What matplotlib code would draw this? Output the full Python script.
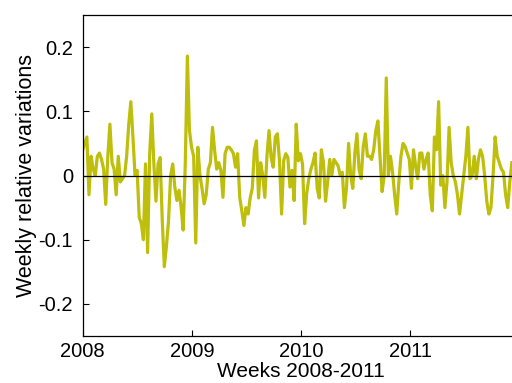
import numpy as np
import matplotlib
matplotlib.use("Agg")
import matplotlib.pyplot as plt

plt.rcParams['font.family'] = ['Liberation Sans', 'DejaVu Sans']

# Weekly relative variations, week 0 = first week of 2008
variations = [
    0.04, 0.05, 0.06, -0.03, 0.03, 0.01, 0.0, 0.03, 0.035, 0.025,
    0.01, -0.045, 0.03, 0.08, 0.02, 0.01, -0.03, 0.03, -0.01, -0.005,
    0.0, 0.03, 0.08, 0.115, 0.06, 0.0, 0.008, -0.065, -0.075, -0.1,
    0.018, -0.12, 0.034, 0.096, 0.018, -0.04, 0.018, 0.028, -0.07, -0.142,
    -0.11, -0.07, 0.0, 0.018, -0.018, -0.039, -0.023, -0.049, -0.085, 0.018,
    0.186, 0.07, 0.044, 0.03, -0.105, 0.044, 0.0, -0.02, -0.044, -0.03,
    0.01, 0.02, 0.075, 0.04, 0.01, 0.02, 0.008, -0.034, 0.034, 0.044,
    0.044, 0.04, 0.034, 0.013, 0.034, -0.034, -0.055, -0.078, -0.05, -0.06,
    -0.035, -0.02, 0.039, 0.054, -0.035, 0.02, 0.0, -0.034, 0.03, 0.07,
    0.028, 0.013, 0.06, 0.065, 0.023, -0.06, 0.023, 0.034, 0.028, -0.018,
    0.008, -0.039, 0.08, 0.023, 0.034, 0.018, -0.075, -0.028, -0.005, 0.01,
    0.02, 0.035, -0.02, -0.035, 0.04, 0.02, -0.04, -0.01, 0.025, 0.0,
    0.025, 0.02, 0.015, 0.0, 0.005, -0.05, -0.02, 0.05, 0.0, -0.02,
    0.035, 0.065, 0.01, -0.005, 0.045, 0.065, 0.03, 0.03, 0.025, 0.04,
    0.07, 0.085, 0.03, -0.025, 0.0, 0.152, 0.0, 0.03, 0.005, -0.03,
    -0.06, -0.01, 0.03, 0.05, 0.045, 0.035, 0.025, -0.02, 0.04, 0.015,
    -0.005, 0.035, 0.035, 0.01, 0.025, 0.035, -0.03, -0.055, 0.06, 0.04,
    0.115, -0.015, 0.0, -0.05, -0.01, 0.075, 0.02, 0.0, -0.01, -0.03,
    -0.06, -0.03, 0.0, 0.03, 0.075, -0.005, 0.0, 0.03, -0.005, 0.025,
    0.04, 0.03, 0.0, -0.04, -0.06, -0.05, 0.0, 0.06, 0.03, 0.02,
    0.01, 0.005, -0.03, -0.05, -0.01, 0.02,
]
year_ticks = [2008, 2009, 2010, 2011]
y_ticks = [-0.2, -0.1, 0, 0.1, 0.2]
y_tick_labels = ["-0.2", "-0.1", "0", "0.1", "0.2"]

weeks = 2008 + np.arange(len(variations)) / 52.18

fig = plt.figure(figsize=(5.12, 3.83), dpi=100)
ax = fig.add_axes([0.1615, 0.1227, 0.8535, 0.8381])

ax.plot(weeks, variations, color='#BEBE0C', lw=2.3, zorder=2)
ax.axhline(0, color='black', lw=0.9, zorder=3)

ax.set_xlim(2008, 2012)
ax.set_ylim(-0.25, 0.25)
ax.set_xticks(year_ticks)
ax.set_xticklabels([str(y) for y in year_ticks])
ax.set_yticks(y_ticks)
ax.set_yticklabels(y_tick_labels)
ax.tick_params(direction='in', length=4, width=0.8, labelsize=14.5)
ax.tick_params(axis='y', pad=7)
ax.tick_params(axis='x', pad=4)

for side in ['left', 'bottom', 'top', 'right']:
    ax.spines[side].set_linewidth(0.9)

ax.set_xlabel("Weeks 2008-2011", fontsize=15, labelpad=1)
ax.set_ylabel("Weekly relative variations", fontsize=15.5, labelpad=1)

fig.savefig("out.png", dpi=100)
